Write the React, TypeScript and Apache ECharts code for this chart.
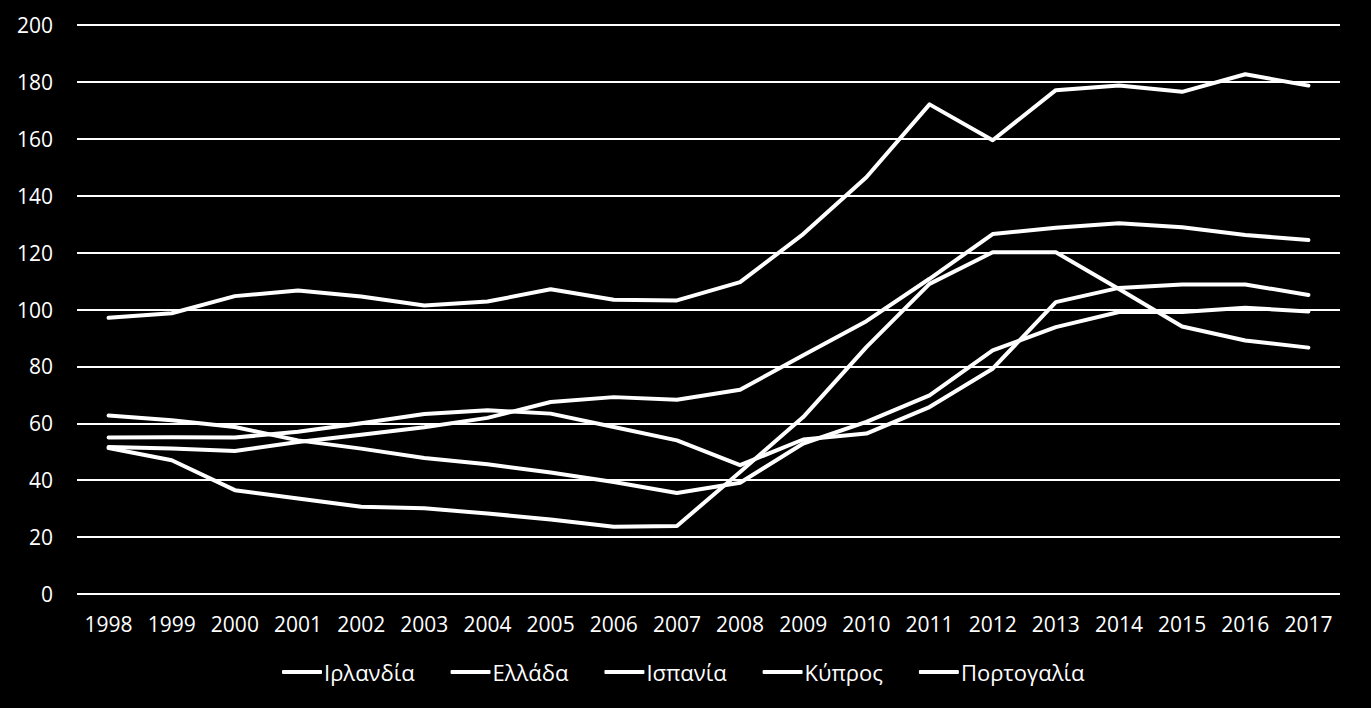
import React, { useEffect, useRef } from "react";
import * as echarts from "echarts";

const years = ["1998","1999","2000","2001","2002","2003","2004","2005","2006","2007","2008","2009","2010","2011","2012","2013","2014","2015","2016","2017"];
const ireland = [51.3, 47.0, 36.5, 33.6, 30.7, 30.1, 28.3, 26.2, 23.6, 23.9, 42.9, 62.2, 86.8, 109.0, 120.1, 120.1, 107.2, 94.0, 89.1, 86.6];
const greece = [97.1, 98.7, 104.7, 106.7, 104.6, 101.4, 102.8, 107.1, 103.4, 103.2, 109.6, 126.5, 146.5, 172.1, 159.5, 177.1, 178.7, 176.5, 182.7, 178.7];
const spain = [62.7, 61.1, 58.7, 54.0, 51.1, 47.8, 45.6, 42.7, 39.4, 35.5, 39.1, 52.9, 60.5, 69.8, 85.6, 93.8, 99.1, 99.1, 100.6, 99.3];
const cyprus = [55.0, 55.1, 55.0, 57.0, 60.0, 63.3, 64.6, 63.4, 58.7, 54.0, 45.3, 54.3, 56.4, 65.7, 79.2, 102.6, 107.6, 108.8, 108.8, 105.1];
const portugal = [51.7, 51.1, 50.3, 53.4, 56.0, 58.6, 61.9, 67.5, 69.2, 68.3, 71.8, 83.9, 95.9, 110.8, 126.5, 128.7, 130.3, 128.9, 126.2, 124.4];
const names = ["Ιρλανδία", "Ελλάδα", "Ισπανία", "Κύπρος", "Πορτογαλία"];
const seriesData = [ireland, greece, spain, cyprus, portugal];

const FONT = "'Open Sans', 'Noto Sans', sans-serif";

export default function App() {
  const ref = useRef<HTMLDivElement>(null);
  useEffect(() => {
    document.body.style.margin = "0";
    document.body.style.background = "#000";
    const chart = echarts.init(ref.current!, null, { renderer: "svg" });
    chart.setOption({
      animation: false,
      backgroundColor: "#000000",
      grid: { left: 77, right: 31, top: 25, bottom: 114, containLabel: false },
      legend: {
        bottom: 20,
        left: 277,
        icon: "roundRect",
        itemWidth: 40,
        itemHeight: 4,
        itemGap: 36,
        textStyle: { color: "#fff", fontSize: 22, fontFamily: FONT, padding: [0, 0, 0, -3] },
        data: names,
      },
      xAxis: {
        type: "category",
        data: years,
        boundaryGap: true,
        axisLine: { show: false },
        axisTick: { show: false },
        axisLabel: { color: "#fff", fontSize: 21, fontFamily: FONT, margin: 19 },
      },
      yAxis: {
        type: "value",
        min: 0,
        max: 200,
        interval: 20,
        axisLine: { show: false },
        axisTick: { show: false },
        axisLabel: { color: "#fff", fontSize: 21, fontFamily: FONT, margin: 24 },
        splitLine: { lineStyle: { color: "#fff", width: 2 } },
      },
      series: names.map((n, i) => ({
        name: n,
        type: "line",
        data: seriesData[i],
        showSymbol: false,
        symbol: "none",
        lineStyle: { color: "#fff", width: 4, cap: "round", join: "round" },
        itemStyle: { color: "#fff" },
      })),
    });
    return () => chart.dispose();
  }, []);
  return <div ref={ref} style={{ position: "absolute", left: 0, top: 0, width: 1371, height: 708 }} />;
}
